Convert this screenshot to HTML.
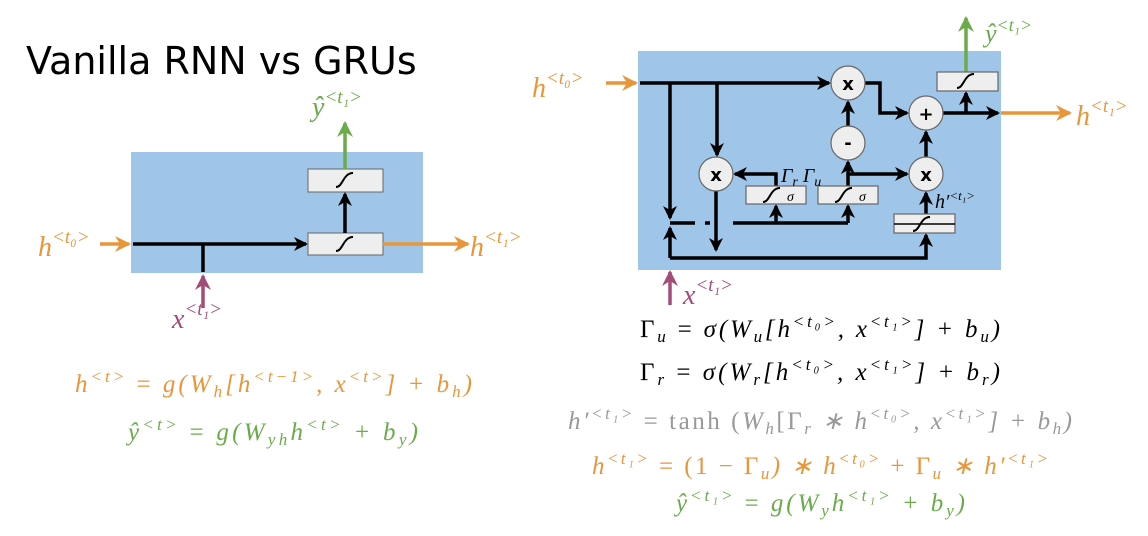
<!DOCTYPE html>
<html><head><meta charset="utf-8"><style>
body{margin:0;width:1148px;height:536px;background:#fff;overflow:hidden}
svg{display:block}
text{font-family:"Liberation Serif",serif;font-style:italic}
.t{font-family:"DejaVu Sans","Liberation Sans",sans-serif;font-style:normal}
.eq{font-family:"Liberation Serif",serif;font-style:italic;font-size:25px}
</style></head><body>
<svg width="1148" height="536" viewBox="0 0 1148 536">
<defs>
<marker id="ak" markerWidth="14" markerHeight="14" refX="12" refY="7" orient="auto" markerUnits="userSpaceOnUse"><path d="M0,0 L14,7 L0,14 L4,7z" fill="#000"/></marker>
<marker id="ao" markerWidth="16" markerHeight="16" refX="14" refY="8" orient="auto" markerUnits="userSpaceOnUse"><path d="M0,0 L16,8 L0,16 L5,8z" fill="#e8963a"/></marker>
<marker id="ag" markerWidth="16" markerHeight="16" refX="14" refY="8" orient="auto" markerUnits="userSpaceOnUse"><path d="M0,0 L16,8 L0,16 L5,8z" fill="#6aab4a"/></marker>
<marker id="ap" markerWidth="16" markerHeight="16" refX="14" refY="8" orient="auto" markerUnits="userSpaceOnUse"><path d="M0,0 L16,8 L0,16 L5,8z" fill="#a34c78"/></marker>
<g id="sig"><path d="M-9,7 C-2,7 -2,-7 8,-7" stroke="#000" stroke-width="2" fill="none"/></g>
</defs>
<text class="t" x="26" y="74" font-size="38" fill="#000">Vanilla RNN vs GRUs</text>

<g>
<rect x="131" y="152" width="292" height="121" fill="#9fc5e8"/>
<line x1="133" y1="244" x2="306" y2="244" stroke="#000" stroke-width="3.5" marker-end="url(#ak)"/>
<line x1="203" y1="244" x2="203" y2="272" stroke="#000" stroke-width="3.5"/>
<line x1="203" y1="308" x2="203" y2="276" stroke="#a34c78" stroke-width="3.5" marker-end="url(#ap)"/>
<rect x="308" y="233" width="75" height="22" fill="#eee" stroke="#666"/>
<use href="#sig" x="345" y="244"/>
<rect x="308" y="169" width="75" height="23" fill="#eee" stroke="#666"/>
<use href="#sig" x="345" y="180"/>
<line x1="345" y1="233" x2="345" y2="194" stroke="#000" stroke-width="3.5" marker-end="url(#ak)"/>
<line x1="345" y1="169" x2="345" y2="123" stroke="#6aab4a" stroke-width="3.5" marker-end="url(#ag)"/>
<line x1="383" y1="244" x2="468" y2="244" stroke="#e8963a" stroke-width="3.5" marker-end="url(#ao)"/>
<line x1="100" y1="244" x2="129" y2="244" stroke="#e8963a" stroke-width="3.5" marker-end="url(#ao)"/>
<text x="38" y="256" font-size="28" fill="#e8963a">h<tspan font-size="19" dy="-13">&lt;t₀&gt;</tspan></text>
<text x="470" y="256" font-size="28" fill="#e8963a">h<tspan font-size="19" dy="-13">&lt;t₁&gt;</tspan></text>
<text x="312" y="116" font-size="28" fill="#6aab4a">ŷ<tspan font-size="19" dy="-13">&lt;t₁&gt;</tspan></text>
<text x="172" y="328" font-size="28" fill="#a34c78">x<tspan font-size="19" dy="-13">&lt;t₁&gt;</tspan></text>
</g>
<text class="eq" x="75" y="392" textLength="397" lengthAdjust="spacing" fill="#e8963a">h<tspan font-size="17" dy="-10">&lt;t&gt;</tspan><tspan dy="10" font-style="normal"> = </tspan>g(W<tspan font-size="17" dy="5">h</tspan><tspan dy="-5">[h</tspan><tspan font-size="17" dy="-10">&lt;t−1&gt;</tspan><tspan dy="10">, x</tspan><tspan font-size="17" dy="-10">&lt;t&gt;</tspan><tspan dy="10">] + b</tspan><tspan font-size="17" dy="5">h</tspan><tspan dy="-5">)</tspan></text>
<text class="eq" x="128" y="440" textLength="290" lengthAdjust="spacing" fill="#6aab4a">ŷ<tspan font-size="17" dy="-10">&lt;t&gt;</tspan><tspan dy="10" font-style="normal"> = </tspan>g(W<tspan font-size="17" dy="5">yh</tspan><tspan dy="-5">h</tspan><tspan font-size="17" dy="-10">&lt;t&gt;</tspan><tspan dy="10"> + b</tspan><tspan font-size="17" dy="5">y</tspan><tspan dy="-5">)</tspan></text>

<g>
<rect x="638" y="51" width="363" height="219" fill="#9fc5e8"/>
<g stroke="#000" stroke-width="3.5" fill="none">
<line x1="640" y1="83" x2="829" y2="83" marker-end="url(#ak)"/>
<polyline points="865,83 880,83 880,113 907,113" marker-end="url(#ak)"/>
<line x1="670" y1="83" x2="670" y2="218" marker-end="url(#ak)"/>
<line x1="670" y1="258" x2="670" y2="228" marker-end="url(#ak)"/>
<line x1="717" y1="83" x2="717" y2="155" marker-end="url(#ak)"/>
<line x1="716" y1="191" x2="716" y2="250" marker-end="url(#ak)"/>
<line x1="670" y1="223" x2="695" y2="223"/><line x1="705" y1="223" x2="710" y2="223"/><line x1="733" y1="223" x2="848" y2="223"/>
<line x1="776" y1="223" x2="776" y2="206" marker-end="url(#ak)"/>
<line x1="848" y1="223" x2="848" y2="206" marker-end="url(#ak)"/>
<polyline points="776,186 776,174 735,174" marker-end="url(#ak)"/>
<line x1="848" y1="186" x2="848" y2="162" marker-end="url(#ak)"/>
<line x1="848" y1="174" x2="907" y2="174" marker-end="url(#ak)"/>
<line x1="848" y1="126" x2="848" y2="102" marker-end="url(#ak)"/>
<line x1="926" y1="214" x2="926" y2="193" marker-end="url(#ak)"/>
<line x1="926" y1="157" x2="926" y2="132" marker-end="url(#ak)"/>
<polyline points="670,258 926,258 926,235" marker-end="url(#ak)"/>
<line x1="943" y1="113" x2="998" y2="113" marker-end="url(#ak)"/>
<line x1="966" y1="113" x2="966" y2="93" marker-end="url(#ak)"/>
</g>
<line x1="1001" y1="113" x2="1070" y2="113" stroke="#e8963a" stroke-width="3.5" marker-end="url(#ao)"/>
<line x1="606" y1="83" x2="636" y2="83" stroke="#e8963a" stroke-width="3.5" marker-end="url(#ao)"/>
<line x1="966" y1="72" x2="966" y2="18" stroke="#6aab4a" stroke-width="3.5" marker-end="url(#ag)"/>
<line x1="670" y1="305" x2="670" y2="272" stroke="#a34c78" stroke-width="3.5" marker-end="url(#ap)"/>
<g fill="#eee" stroke="#666" stroke-width="1.2">
<circle cx="848" cy="83" r="17"/><circle cx="926" cy="113" r="17"/><circle cx="848" cy="143" r="17"/>
<circle cx="716" cy="174" r="17"/><circle cx="926" cy="174" r="17"/>
<rect x="746" y="186" width="60" height="18"/><rect x="818" y="186" width="60" height="18"/>
<rect x="894" y="214" width="61" height="19"/><rect x="937" y="72" width="61" height="19"/>
</g>
<line x1="894" y1="224" x2="955" y2="224" stroke="#000" stroke-width="1.5"/>
<use href="#sig" x="772" y="195"/><use href="#sig" x="844" y="195"/><use href="#sig" x="922" y="224"/><use href="#sig" x="966" y="81"/>
<text x="787" y="201" font-size="14">σ</text><text x="859" y="201" font-size="14">σ</text>
<g font-weight="bold" font-size="18" text-anchor="middle">
<text class="t" x="848" y="90">x</text><text class="t" x="926" y="120">+</text><text class="t" x="848" y="149">-</text>
<text class="t" x="716" y="181">x</text><text class="t" x="926" y="181">x</text></g>
<text x="781" y="182" font-size="20" font-style="normal">Γ<tspan font-size="14" font-style="italic" dy="4">r</tspan><tspan dy="-4"> Γ</tspan><tspan font-size="14" font-style="italic" dy="4">u</tspan></text>
<text x="935" y="208" font-size="20">h′<tspan font-size="13" dy="-8">&lt;t₁&gt;</tspan></text>
<text x="532" y="97" font-size="28" fill="#e8963a">h<tspan font-size="19" dy="-13">&lt;t₀&gt;</tspan></text>
<text x="1076" y="125" font-size="28" fill="#e8963a">h<tspan font-size="19" dy="-13">&lt;t₁&gt;</tspan></text>
<text x="985" y="42" font-size="26" fill="#6aab4a">ŷ<tspan font-size="18" dy="-11">&lt;t₁&gt;</tspan></text>
<text x="683" y="304" font-size="28" fill="#a34c78">x<tspan font-size="19" dy="-13">&lt;t₁&gt;</tspan></text>
</g>
<g>
<text class="eq" x="640" y="337" textLength="360" lengthAdjust="spacing" fill="#000"><tspan font-style="normal">Γ</tspan><tspan font-size="17" dy="5">u</tspan><tspan dy="-5" font-style="normal"> = </tspan>σ(W<tspan font-size="17" dy="5">u</tspan><tspan dy="-5">[h</tspan><tspan font-size="17" dy="-10">&lt;t₀&gt;</tspan><tspan dy="10">, x</tspan><tspan font-size="17" dy="-10">&lt;t₁&gt;</tspan><tspan dy="10">] + b</tspan><tspan font-size="17" dy="5">u</tspan><tspan dy="-5">)</tspan></text>
<text class="eq" x="640" y="380" textLength="360" lengthAdjust="spacing" fill="#000"><tspan font-style="normal">Γ</tspan><tspan font-size="17" dy="5">r</tspan><tspan dy="-5" font-style="normal"> = </tspan>σ(W<tspan font-size="17" dy="5">r</tspan><tspan dy="-5">[h</tspan><tspan font-size="17" dy="-10">&lt;t₀&gt;</tspan><tspan dy="10">, x</tspan><tspan font-size="17" dy="-10">&lt;t₁&gt;</tspan><tspan dy="10">] + b</tspan><tspan font-size="17" dy="5">r</tspan><tspan dy="-5">)</tspan></text>
<text class="eq" x="568" y="429" textLength="504" lengthAdjust="spacing" fill="#999">h′<tspan font-size="17" dy="-10">&lt;t₁&gt;</tspan><tspan dy="10" font-style="normal"> = tanh (</tspan>W<tspan font-size="17" dy="5">h</tspan><tspan dy="-5" font-style="normal">[Γ</tspan><tspan font-size="17" dy="5">r</tspan><tspan dy="-5"> ∗ h</tspan><tspan font-size="17" dy="-10">&lt;t₀&gt;</tspan><tspan dy="10">, x</tspan><tspan font-size="17" dy="-10">&lt;t₁&gt;</tspan><tspan dy="10">] + b</tspan><tspan font-size="17" dy="5">h</tspan><tspan dy="-5">)</tspan></text>
<text class="eq" x="592" y="474" textLength="456" lengthAdjust="spacing" fill="#e8963a">h<tspan font-size="17" dy="-10">&lt;t₁&gt;</tspan><tspan dy="10" font-style="normal"> = (1 − Γ</tspan><tspan font-size="17" dy="5">u</tspan><tspan dy="-5">) ∗ h</tspan><tspan font-size="17" dy="-10">&lt;t₀&gt;</tspan><tspan dy="10" font-style="normal"> + Γ</tspan><tspan font-size="17" dy="5">u</tspan><tspan dy="-5"> ∗ h′</tspan><tspan font-size="17" dy="-10">&lt;t₁&gt;</tspan></text>
<text class="eq" x="676" y="511" textLength="289" lengthAdjust="spacing" fill="#6aab4a">ŷ<tspan font-size="17" dy="-10">&lt;t₁&gt;</tspan><tspan dy="10" font-style="normal"> = </tspan>g(W<tspan font-size="17" dy="5">y</tspan><tspan dy="-5">h</tspan><tspan font-size="17" dy="-10">&lt;t₁&gt;</tspan><tspan dy="10"> + b</tspan><tspan font-size="17" dy="5">y</tspan><tspan dy="-5">)</tspan></text>
</g>
</svg>
</body></html>
